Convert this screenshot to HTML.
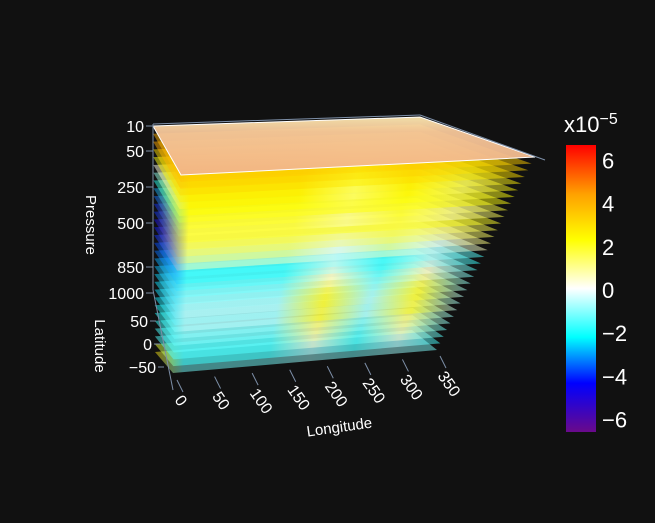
<!DOCTYPE html>
<html><head><meta charset="utf-8"><style>
body{margin:0;background:#111;}
svg{display:block;font-family:"Liberation Sans",sans-serif;}
</style></head><body>
<svg id="c" width="655" height="523" viewBox="0 0 655 523">
<rect width="655" height="523" fill="#111"/>
<defs>
<linearGradient id="cb" x1="0" y1="1" x2="0" y2="0">
<stop offset="0" stop-color="#6a0a8a"/><stop offset="0.17" stop-color="#0000ff"/>
<stop offset="0.33" stop-color="#00ffff"/><stop offset="0.5" stop-color="#ffffff"/>
<stop offset="0.67" stop-color="#ffff00"/><stop offset="0.83" stop-color="#ffa000"/>
<stop offset="1" stop-color="#ff0000"/></linearGradient>
<linearGradient id="topg" x1="0" y1="0" x2="0" y2="1">
<stop offset="0" stop-color="#fde8b0"/><stop offset="0.25" stop-color="#f6c79a"/><stop offset="1" stop-color="#f2b488"/></linearGradient>
</defs>
<g id="slices"></g>
<g id="axes"></g>
<g>
<rect x="566" y="145" width="30" height="287" fill="url(#cb)"/>
<text x="564" y="132" fill="#fff" font-size="22">x10<tspan font-size="16" dy="-8">−5</tspan></text>
<g id="cbt" fill="#fff" font-size="22"></g>
</g>
</svg>
<script>
const sliceValues=[2.0,3.4,3.2,3.0,2.6,2.4,2.2,2.0,1.8,1.6,1.8,1.6,1.4,1.2,0.6,-1.6,-1.8,-1.5,-1.2,-1.0,-0.8,-0.6,-0.8,-0.5,-0.9,-1.0,-1.3,-1.5,-1.7,-1.2];
const sideValues=[3.5,4,4.2,3,2,0,-1,-2,-3,-3.5,-4,-4,-4.5,-4.2,-4,-3.8,-3.5,-3,-2.8,-2.6,-2.5,-2.5,-2.4,-2.2,-2,-1.8,-1.6,-1.5,2,3];
const bandValues=[2,3,2.8,2.5,1.5,1.2,1.5,2.2,1.0,0.5,2.0,1.2,1.0,0.2,-0.5,-0.8,-0.6,0.2,0.4,1.2,1.6,1.8,1.4,2.0,1.2,1.0,0.8,0.4,-0.6,-0.8];
const pressureTicks=["10","50","250","500","850","1000"];
const pressureTickY=[126,151,187,223,267,293];
const latTicks=["50","0","−50"];
const lonTicks=["0","50","100","150","200","250","300","350"];
const cbTicks=[6,4,2,0,-2,-4,-6];
const NS="http://www.w3.org/2000/svg";
const cstops=[[-6.5,[106,10,138]],[-4.3,[0,0,255]],[-2.2,[0,255,255]],[0,[255,255,255]],[2.2,[255,255,0]],[4.3,[255,160,0]],[6.5,[255,0,0]]];
function col(v){for(let i=0;i<cstops.length-1;i++){const a=cstops[i],b=cstops[i+1];if(v<=b[0]||i==cstops.length-2){let t=Math.max(0,Math.min(1,(v-a[0])/(b[0]-a[0])));return 'rgb('+a[1].map((c,j)=>Math.round(c+(b[1][j]-c)*t)).join(',')+')';}}}
function cbY(v){return 290-v*21.6;}
const sg=document.getElementById('slices');
const topQ=[[153,126],[420,117],[535,157],[181,175]], botQ=[[155,352],[412,330],[437,350],[173,373]];
const defsEl=document.querySelector('defs');
const nS=sliceValues.length;
for(let k=nS-1;k>=0;k--){
 const t=k/(nS-1);
 const q=topQ.map((p,i)=>[p[0]+(botQ[i][0]-p[0])*t,p[1]+(botQ[i][1]-p[1])*t]);
 const gr=document.createElementNS(NS,'linearGradient');gr.setAttribute('id','g'+k);
 const m=col(sliceValues[k]),b=col(bandValues[k]);
 gr.innerHTML='<stop offset="0" stop-color="'+col(sideValues[k])+'"/><stop offset="0.1" stop-color="'+m+'"/><stop offset="0.4" stop-color="'+m+'"/><stop offset="0.55" stop-color="'+b+'"/><stop offset="0.7" stop-color="'+m+'"/><stop offset="0.85" stop-color="'+b+'"/><stop offset="1" stop-color="'+m+'"/>';
 defsEl.appendChild(gr);
 const p=document.createElementNS(NS,'polygon');
 p.setAttribute('points',q.map(a=>a.join(',')).join(' '));
 p.setAttribute('fill',k==0?'url(#topg)':'url(#g'+k+')');
 p.setAttribute('fill-opacity',k==0?0.95:0.5);
 if(k==0)p.setAttribute('stroke','#fff');
 
 
 sg.appendChild(p);
}
const ax=document.getElementById('axes');
function txt(x,y,s,attrs){const e=document.createElementNS(NS,'text');e.setAttribute('x',x);e.setAttribute('y',y);e.setAttribute('fill','#fff');e.setAttribute('font-size','16');for(const k in attrs)e.setAttribute(k,attrs[k]);e.textContent=s;ax.appendChild(e);return e;}
function line(x1,y1,x2,y2){const l=document.createElementNS(NS,'line');l.setAttribute('x1',x1);l.setAttribute('y1',y1);l.setAttribute('x2',x2);l.setAttribute('y2',y2);l.setAttribute('stroke','#7d8fa8');l.setAttribute('stroke-width','1');ax.appendChild(l);return l;}
let ln=line(153,124,153,290);
ln=line(153,290,173,390);
ln=line(153,124,420,115);
ln=line(420,115,545,160);
pressureTicks.forEach((s,i)=>{const y=pressureTickY[i];line(146,y,153,y);const e=txt(144,y+6,s,{'text-anchor':'end'});});
latTicks.forEach((s,i)=>{const y=321+i*23;const x=156+i*4;line(x-6,y,x,y);const e=txt(x-8,y+6,s,{'text-anchor':'end'});});
lonTicks.forEach((s,i)=>{const f=i/7;const x=177+f*263,y=392-f*24;line(x,y-12,x+6,y);const e=txt(x-3,y+8,s,{transform:'rotate(55 '+(x-3)+' '+(y+8)+')'});});
let et=txt(86,225,'Pressure',{transform:'rotate(90 86 225)','text-anchor':'middle','font-size':'15'});
et=txt(95,346,'Latitude',{transform:'rotate(90 95 346)','text-anchor':'middle','font-size':'15'});
et=txt(340,432,'Longitude',{transform:'rotate(-8 340 432)','text-anchor':'middle','font-size':'15'});
const cbt=document.getElementById('cbt');
cbTicks.forEach(v=>{const t=document.createElementNS(NS,'text');t.setAttribute('x',602);t.setAttribute('y',cbY(v)+8);t.textContent=(v<0?'−':'')+Math.abs(v);cbt.appendChild(t);});
</script>
</body></html>
